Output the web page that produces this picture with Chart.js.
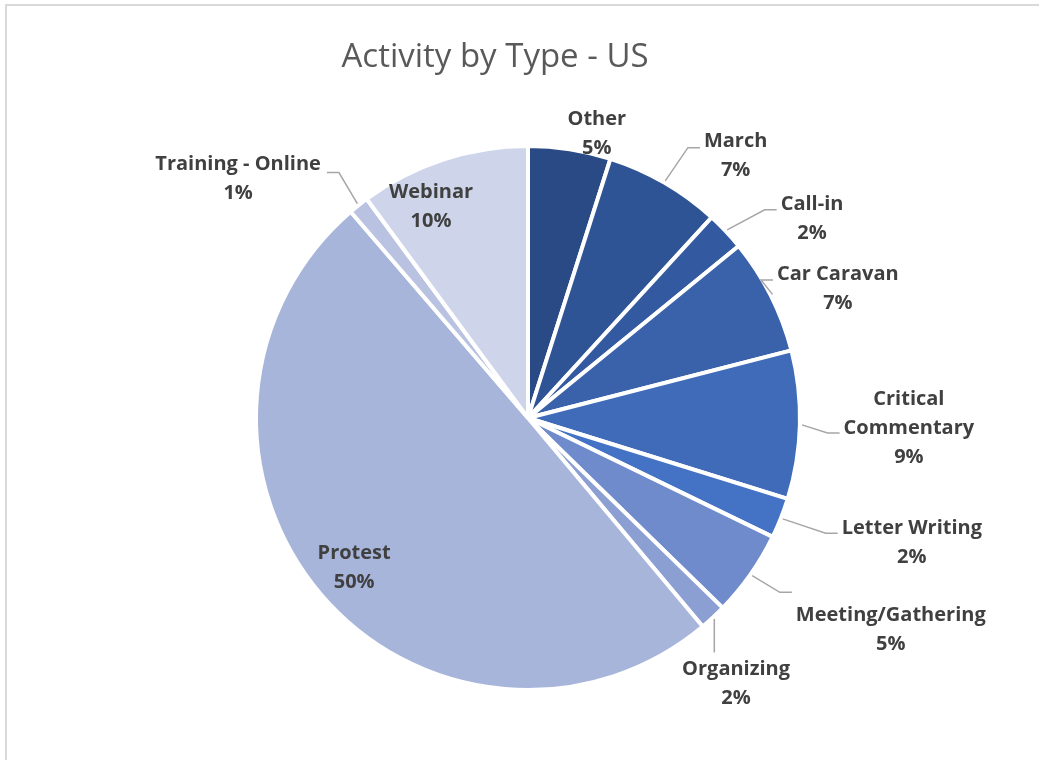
<!DOCTYPE html>
<html>
    <head>
        <meta charset="UTF-8" />
        <title>Activity by Type - US</title>
        <style type="text/css">
            body {
                margin: 0;
                background: #ffffff;
            }
            .chartBox {
                position: absolute;
                left: 0;
                top: 0;
                width: 1039px;
                height: 760px;
            }
            .frame {
                position: absolute;
                left: 5px;
                top: 4px;
                width: 1034px;
                height: 756px;
                border-left: 2px solid #d9d9d9;
                border-top: 2px solid #d9d9d9;
                box-sizing: border-box;
            }
        </style>
    </head>
    <body>
        <div class="frame"></div>
        <div class="chartBox">
            <canvas id="myChart" width="1039" height="760"></canvas>
        </div>

        <script src="https://cdn.jsdelivr.net/npm/chart.js"></script>
        <script>
            // data (share of activities, in %)
            const categories = ['Other', 'March', 'Call-in', 'Car Caravan', 'Critical Commentary',
                'Letter Writing', 'Meeting/Gathering', 'Organizing', 'Protest', 'Training - Online', 'Webinar'];
            const shares = [4.9, 6.9, 2.3, 6.9, 8.8, 2.4, 5.1, 1.6, 49.8, 1.2, 10.1];
            const sliceColors = ['#2a4a85', '#2f5495', '#3359a0', '#3a62ab', '#3f6bb9', '#4472c4',
                '#6f8bcb', '#8c9fd3', '#a8b5da', '#b9c3e1', '#ced5ea'];

            // label layout: text lines, angle shift from slice middle (deg), distance (x radius), leader
            const labelLines = [['Other'], ['March'], ['Call-in'], ['Car Caravan'], ['Critical', 'Commentary'],
                ['Letter Writing'], ['Meeting/Gathering'], ['Organizing'], ['Protest'], ['Training - Online'], ['Webinar']];
            const labelShift = [4.7, 8.2, 8.2, 3.9, -0.1, -3.8, -5.0, 4.6, -0.2, -11.8, -6.3];
            const labelDist = [1.09, 1.242, 1.287, 1.246, 1.411, 1.493, 1.553, 1.245, 0.847, 1.395, 0.867];
            // leader: null = none, 'v' = straight down, number = y offset of the horizontal end
            const leaders = [null, -7, -8, -7, 6, -8, -36, 'v', null, -5, null];

            const labelPlugin = {
                id: 'sliceLabels',
                afterDatasetsDraw(chart) {
                    const ctx = chart.ctx;
                    const meta = chart.getDatasetMeta(0);
                    const total = shares.reduce((a, b) => a + b, 0);
                    ctx.save();
                    ctx.font = 'bold 20px "Open Sans"';
                    ctx.fillStyle = '#404040';
                    ctx.textAlign = 'center';
                    ctx.textBaseline = 'middle';
                    const lh = 29;
                    meta.data.forEach((arc, i) => {
                        const p = arc.getProps(['x', 'y', 'startAngle', 'endAngle', 'outerRadius'], true);
                        const mid = (p.startAngle + p.endAngle) / 2;
                        const a = mid + labelShift[i] * Math.PI / 180;
                        const R = 270;
                        const cx = p.x + Math.cos(a) * R * labelDist[i];
                        const cy = p.y + Math.sin(a) * R * labelDist[i];
                        const lines = labelLines[i].concat([Math.round(shares[i] / total * 100) + '%']);
                        const top = cy - (lines.length - 1) * lh / 2;
                        let maxW = 0;
                        lines.forEach((t, k) => {
                            ctx.fillText(t, cx, top + k * lh + 1.5);
                            maxW = Math.max(maxW, ctx.measureText(t).width);
                        });
                        const ld = leaders[i];
                        if (ld === null) return;
                        const sx = p.x + Math.cos(mid) * (R + 4);
                        const sy = p.y + Math.sin(mid) * (R + 4);
                        ctx.beginPath();
                        ctx.strokeStyle = '#a6a6a6';
                        ctx.lineWidth = 1.5;
                        ctx.moveTo(sx, sy);
                        if (ld === 'v') {
                            ctx.lineTo(sx, top - 15);
                        } else {
                            const right = cx > p.x;
                            const ex = right ? cx - maxW / 2 - 4 : cx + maxW / 2 + 6;
                            const ey = cy + ld;
                            ctx.lineTo(right ? ex - 12 : ex + 12, ey);
                            ctx.lineTo(ex, ey);
                        }
                        ctx.stroke();
                    });
                    // title
                    ctx.font = '33px "Open Sans"';
                    ctx.fillStyle = '#595959';
                    ctx.fillText('Activity by Type - US', 495, 58);
                    ctx.restore();
                }
            };

            const data = {
                labels: categories,
                datasets: [{
                    data: shares,
                    backgroundColor: sliceColors,
                    borderColor: '#ffffff',
                    borderWidth: 4,
                    hoverOffset: 0,
                    offset: 0
                }]
            };

            const config = {
                type: 'pie',
                data,
                options: {
                    responsive: false,
                    animation: false,
                    events: [],
                    layout: {
                        padding: { left: 254, right: 237, top: 144, bottom: 68 }
                    },
                    plugins: {
                        legend: { display: false },
                        tooltip: { enabled: false },
                        title: { display: false }
                    }
                },
                plugins: [labelPlugin]
            };

            const myChart = new Chart(document.getElementById('myChart'), config);
        </script>
    </body>
</html>
